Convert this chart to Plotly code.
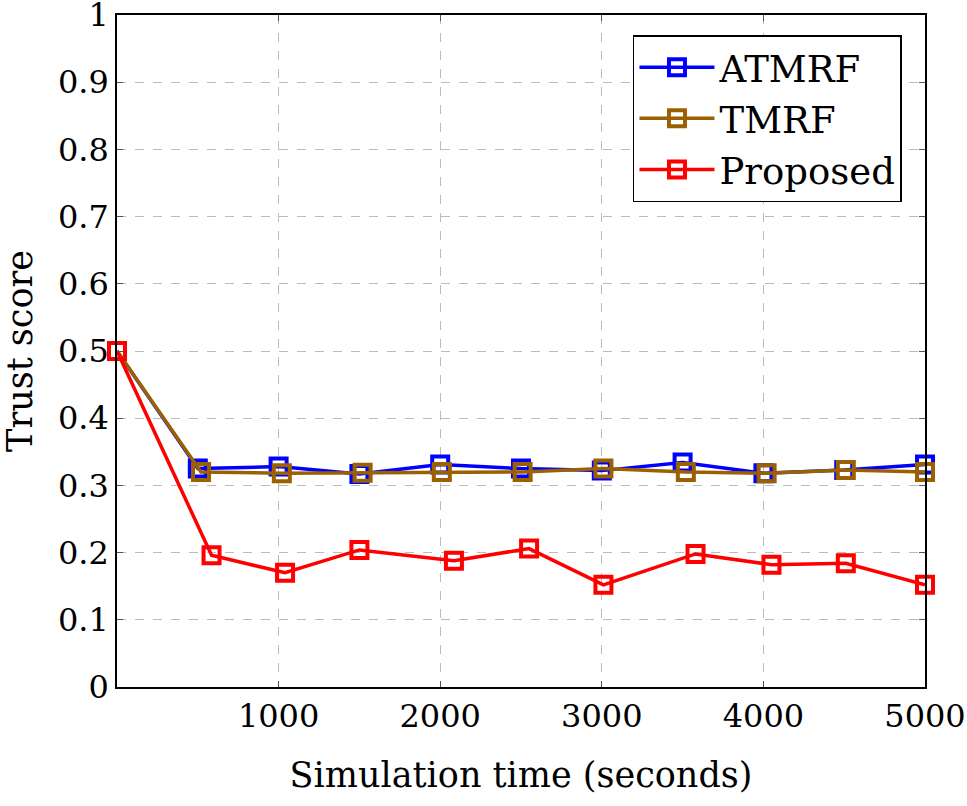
import plotly.graph_objects as go

atmrf_x = [0, 500, 1000, 1500, 2000, 2500, 3000, 3500, 4000, 4500, 5000]
atmrf_y = [0.5, 0.325, 0.328, 0.317, 0.331, 0.325, 0.322, 0.334, 0.318, 0.323, 0.331]

tmrf_x = [0, 520, 1020, 1520, 2010, 2510, 3010, 3520, 4020, 4510, 5000]
tmrf_y = [0.5, 0.320, 0.318, 0.319, 0.320, 0.320, 0.325, 0.320, 0.318, 0.323, 0.320]

prop_x = [0, 585, 1040, 1500, 2085, 2550, 3010, 3580, 4050, 4510, 5000]
prop_y = [0.5, 0.196, 0.170, 0.204, 0.188, 0.206, 0.152, 0.198, 0.182, 0.184, 0.152]

x_ticks = [1000, 2000, 3000, 4000, 5000]
y_ticks = [0, 0.1, 0.2, 0.3, 0.4, 0.5, 0.6, 0.7, 0.8, 0.9, 1]
y_labels = ["0", "0.1", "0.2", "0.3", "0.4", "0.5", "0.6", "0.7", "0.8", "0.9", "1"]

FONT = "DejaVu Serif"
FS = 32
TFS = 35
LFS = 37

fig = go.Figure()
for name, xs, ys, col in [("ATMRF", atmrf_x, atmrf_y, "#0000ff"),
                          ("TMRF", tmrf_x, tmrf_y, "#9b6100"),
                          ("Proposed", prop_x, prop_y, "#ff0000")]:
    fig.add_trace(go.Scatter(
        x=xs, y=ys, name=name, mode="lines+markers", cliponaxis=False,
        line=dict(color=col, width=3.5),
        marker=dict(symbol="square-open", size=16, color=col, line=dict(width=4, color=col)),
    ))

fig.update_layout(
    width=967, height=806,
    margin=dict(l=117, r=42, t=15, b=119, autoexpand=False),
    paper_bgcolor="white", plot_bgcolor="white",
    font=dict(family=FONT, size=FS, color="black"),
    showlegend=True,
    legend=dict(x=0.9715, y=0.97, xanchor="right", yanchor="top",
                bordercolor="black", borderwidth=1.5, bgcolor="white",
                font=dict(family=FONT, size=LFS), itemwidth=75, tracegroupgap=0),
)
fig.update_xaxes(
    range=[0, 5000], tickvals=x_ticks, ticktext=[str(v) for v in x_ticks],
    showgrid=True, gridcolor="#bbbbbb", griddash="dash", gridwidth=1.3,
    showline=True, linecolor="black", linewidth=1.5, mirror="ticks",
    ticks="inside", ticklen=6, tickcolor="#555555", ticklabeloverflow="allow",
    zeroline=False, automargin=False,
    title=dict(text="Simulation time (seconds)", font=dict(family=FONT, size=TFS), standoff=28),
)
fig.update_yaxes(
    range=[0, 1], tickvals=y_ticks, ticktext=y_labels,
    showgrid=True, gridcolor="#bbbbbb", griddash="dash", gridwidth=1.3,
    showline=True, linecolor="black", linewidth=1.5, mirror="ticks",
    ticks="inside", ticklen=6, tickcolor="#555555", ticklabeloverflow="allow",
    zeroline=False, automargin=False,
    title=dict(text="Trust score", font=dict(family=FONT, size=TFS), standoff=16),
)

fig.write_html("out.html")
